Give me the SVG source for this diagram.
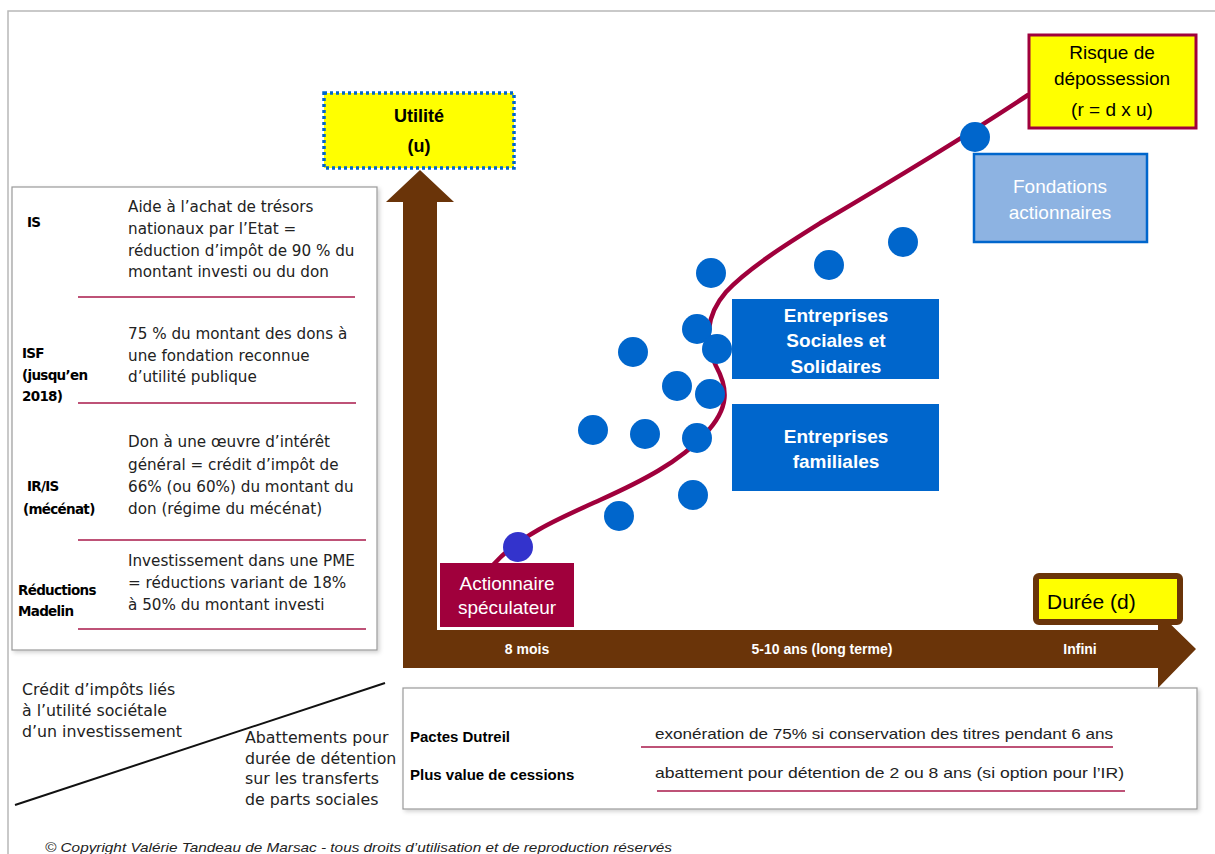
<svg xmlns="http://www.w3.org/2000/svg" width="1215" height="854" viewBox="0 0 1215 854">
<style>
.t{font-family:"DejaVu Sans",sans-serif;font-size:15.2px;fill:#222}
.t2{font-family:"DejaVu Sans",sans-serif;font-size:15.8px;fill:#222}
.lab{font-family:"DejaVu Sans",sans-serif;font-size:13.5px;font-weight:bold;fill:#000;letter-spacing:-0.7px}
.sep{stroke:#A8184A;stroke-width:1.3}
.wb{font-family:"Liberation Sans",sans-serif;font-size:19px;font-weight:bold;fill:#fff;text-anchor:middle}
.wn{font-family:"Liberation Sans",sans-serif;font-size:19px;fill:#fff;text-anchor:middle}
.ax{font-family:"Liberation Sans",sans-serif;font-size:14px;font-weight:bold;fill:#fff;text-anchor:middle}
.bt{font-family:"Liberation Sans",sans-serif;font-size:15px;fill:#222}
.bb{font-family:"Liberation Sans",sans-serif;font-size:15px;font-weight:bold;fill:#000}
.bk{font-family:"Liberation Sans",sans-serif;font-size:19px;fill:#000;text-anchor:middle}
.dot{fill:#0066CC}
</style>
<defs>
<filter id="sh" x="-5%" y="-5%" width="110%" height="110%">
<feDropShadow dx="2" dy="2" stdDeviation="2" flood-color="#000" flood-opacity="0.18"/>
</filter>
</defs>
<rect width="1215" height="854" fill="#fff"/>
<path d="M8 854 V11 H1215" fill="none" stroke="#b8b8b8" stroke-width="1.5"/>

<g id="axes">
<polygon points="403,668 403,202 386,202 420,170 454,202 437,202 437,630 1158,630 1158,612 1196,649 1158,688 1158,668" fill="#6A3409"/>
<text class="ax" x="527" y="654">8 mois</text>
<text class="ax" x="822" y="654">5-10 ans (long terme)</text>
<text class="ax" x="1080" y="654">Infini</text>
</g>

<g id="utilite">
<rect x="324" y="93" width="190" height="75" fill="#FFFF00" stroke="#0066CC" stroke-width="3.5" stroke-dasharray="3,3"/>
<text x="419" y="122" font-family="Liberation Sans,sans-serif" font-size="18" font-weight="bold" text-anchor="middle">Utilité</text>
<text x="419" y="152" font-family="Liberation Sans,sans-serif" font-size="18" font-weight="bold" text-anchor="middle">(u)</text>
</g>

<g id="left-box">
<rect x="12" y="187" width="365" height="463" fill="#fff" stroke="#999" stroke-width="1.2" filter="url(#sh)"/>
<text class="lab" x="27" y="227">IS</text>
<text class="t" x="128" y="212">Aide à l’achat de trésors</text>
<text class="t" x="128" y="234">nationaux par l’Etat =</text>
<text class="t" x="128" y="256">réduction d’impôt de 90 % du</text>
<text class="t" x="128" y="277">montant investi ou du don</text>
<line class="sep" x1="78" y1="297" x2="355" y2="297"/>
<text class="lab" x="22" y="358">ISF</text>
<text class="lab" x="22" y="380">(jusqu’en</text>
<text class="lab" x="22" y="401">2018)</text>
<text class="t" x="128" y="339">75 % du montant des dons à</text>
<text class="t" x="128" y="361">une fondation reconnue</text>
<text class="t" x="128" y="382">d’utilité publique</text>
<line class="sep" x1="78" y1="403" x2="356" y2="403"/>
<text class="lab" x="27" y="491">IR/IS</text>
<text class="lab" x="23" y="514">(mécénat)</text>
<text class="t" x="128" y="447">Don à une œuvre d’intérêt</text>
<text class="t" x="128" y="470">général = crédit d’impôt  de</text>
<text class="t" x="128" y="492">66% (ou 60%) du montant du</text>
<text class="t" x="128" y="514">don (régime du mécénat)</text>
<line class="sep" x1="78" y1="540" x2="366" y2="540"/>
<text class="lab" x="18" y="595">Réductions</text>
<text class="lab" x="18" y="616">Madelin</text>
<text class="t" x="128" y="566">Investissement dans une PME</text>
<text class="t" x="128" y="588">= réductions  variant de 18%</text>
<text class="t" x="128" y="610">à 50% du montant investi</text>
<line class="sep" x1="78" y1="629" x2="366" y2="629"/>
</g>

<g id="diagonal-legend">
<line x1="15" y1="805" x2="385" y2="683" stroke="#111" stroke-width="2"/>
<text class="t2" x="22" y="695">Crédit d’impôts liés</text>
<text class="t2" x="22" y="716">à l’utilité sociétale</text>
<text class="t2" x="22" y="737">d’un investissement</text>
<text class="t2" x="245" y="743">Abattements pour</text>
<text class="t2" x="245" y="764">durée de détention</text>
<text class="t2" x="245" y="784">sur les transferts</text>
<text class="t2" x="245" y="805">de parts sociales</text>
</g>

<g id="bottom-box">
<rect x="403" y="688" width="794" height="121" fill="#fff" stroke="#999" stroke-width="1.2" filter="url(#sh)"/>
<text class="bb" x="410" y="742">Pactes Dutreil</text>
<text class="bb" x="410" y="780">Plus value de cessions</text>
<text class="bt" x="655" y="739" textLength="458" lengthAdjust="spacingAndGlyphs">exonération de 75% si conservation des titres pendant 6 ans</text>
<line class="sep" x1="641" y1="747" x2="1113" y2="747"/>
<text class="bt" x="655" y="778" textLength="469" lengthAdjust="spacingAndGlyphs">abattement pour détention de 2 ou 8 ans (si option pour l’IR)</text>
<line class="sep" x1="657" y1="791" x2="1125" y2="791"/>
</g>

<g id="connectors">
<path d="M494 564 C520 535 560 518 600 500 S680 462 705 434 C730 408 728 388 716 366 C704 342 706 315 726 292 C748 268 790 242 822 222 C890 182 960 140 1028 95" fill="none" stroke="#A0003C" stroke-width="4.5" stroke-linecap="round"/>
</g>

<g id="dots">
<circle class="dot" cx="975" cy="137" r="15"/>
<circle class="dot" cx="903" cy="242" r="15"/>
<circle class="dot" cx="829" cy="265" r="15"/>
<circle class="dot" cx="711" cy="273" r="15"/>
<circle class="dot" cx="697" cy="329" r="15"/>
<circle class="dot" cx="633" cy="352" r="15"/>
<circle class="dot" cx="717" cy="349" r="15"/>
<circle class="dot" cx="677" cy="386" r="15"/>
<circle class="dot" cx="710" cy="394" r="15"/>
<circle class="dot" cx="593" cy="430" r="15"/>
<circle class="dot" cx="645" cy="434" r="15"/>
<circle class="dot" cx="697" cy="438" r="15"/>
<circle class="dot" cx="693" cy="495" r="15"/>
<circle class="dot" cx="619" cy="516" r="15"/>
<circle cx="518" cy="547" r="15" fill="#3333CC"/>
</g>

<g id="actionnaire">
<rect x="440" y="563" width="134" height="64" fill="#A0003C"/>
<text class="wn" x="507" y="590">Actionnaire</text>
<text class="wn" x="507" y="614">spéculateur</text>
</g>

<g id="ess">
<rect x="732" y="299" width="207" height="80" fill="#0066CC"/>
<text class="wb" x="836" y="322">Entreprises</text>
<text class="wb" x="836" y="347">Sociales et</text>
<text class="wb" x="836" y="373">Solidaires</text>
</g>

<g id="familiales">
<rect x="732" y="404" width="207" height="87" fill="#0066CC"/>
<text class="wb" x="836" y="443">Entreprises</text>
<text class="wb" x="836" y="468">familiales</text>
</g>

<g id="fondations">
<rect x="974" y="154" width="173" height="88" fill="#8DB3E2" stroke="#0066CC" stroke-width="2.5"/>
<text class="wn" x="1060" y="193">Fondations</text>
<text class="wn" x="1060" y="219">actionnaires</text>
</g>

<g id="risque">
<rect x="1029" y="35" width="167" height="93" fill="#FFFF00" stroke="#A0003C" stroke-width="3"/>
<text class="bk" x="1112" y="59">Risque de</text>
<text class="bk" x="1112" y="85">dépossession</text>
<text class="bk" x="1112" y="116">(r = d x u)</text>
</g>

<g id="duree">
<rect x="1036" y="576" width="144" height="46" rx="3" fill="#FFFF00" stroke="#6A3409" stroke-width="6"/>
<text x="1047" y="609" font-family="Liberation Sans,sans-serif" font-size="21">Durée (d)</text>
</g>

<text x="45" y="852" font-family="Liberation Sans,sans-serif" font-size="13" font-style="italic" fill="#222" textLength="627" lengthAdjust="spacingAndGlyphs">© Copyright Valérie Tandeau de Marsac - tous droits d’utilisation et de reproduction réservés</text>
</svg>
